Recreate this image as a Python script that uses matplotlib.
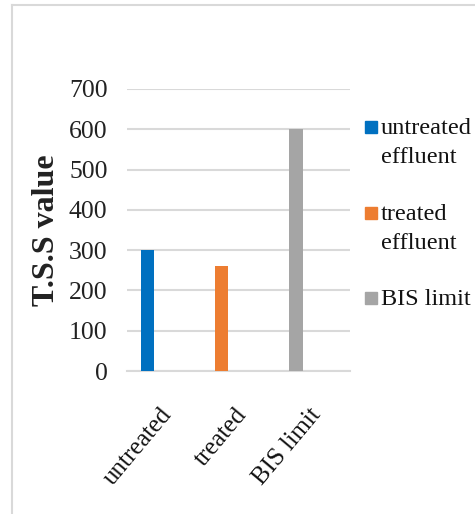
import matplotlib
matplotlib.use("Agg")
import matplotlib.pyplot as plt
from matplotlib.lines import Line2D
from matplotlib.patches import Rectangle
from matplotlib.transforms import ScaledTranslation

categories = ["untreated", "treated", "BIS limit"]
values = [300, 260, 600]
series_names = ["untreated\neffluent", "treated\neffluent", "BIS limit"]
colors = ["#0070C0", "#ED7D31", "#A5A5A5"]
yticks = [0, 100, 200, 300, 400, 500, 600, 700]

plt.rcParams['font.family'] = ['Liberation Serif', 'DejaVu Serif']

W, H = 475, 514
fig = plt.figure(figsize=(W / 100, H / 100), dpi=100)

ax = fig.add_axes([127 / W, 1 - 371 / H, (350 - 127) / W, (371 - 89) / H])

x = list(range(len(categories)))
offset = -0.227
width = 0.18
for i, (v, c) in enumerate(zip(values, colors)):
    ax.bar(x[i] + offset, v, width=width, color=c, zorder=3)

ax.set_xlim(-0.5, len(categories) - 0.5)
ax.set_ylim(0, 700)
ax.set_yticks(yticks)
ax.set_yticklabels([str(t) for t in yticks], fontsize=18.5, color="#222222")
ax.yaxis.grid(True, color="#d9d9d9", linewidth=1.5, zorder=0)
ax.tick_params(axis="y", length=0, pad=14)
for s in ["left", "right", "top"]:
    ax.spines[s].set_visible(False)
ax.spines["bottom"].set_color("#d9d9d9")
ax.spines["bottom"].set_linewidth(1.5)

ax.set_xticks(x)
ax.set_xticklabels(categories, fontsize=18, rotation=50, ha="right",
                   va="center", rotation_mode="anchor", color="#111111")
ax.tick_params(axis="x", length=0, pad=29)
shift = ScaledTranslation(4 / 100, 0, fig.dpi_scale_trans)
for lab in ax.get_xticklabels():
    lab.set_transform(lab.get_transform() + shift)

ax.set_ylabel("T.S.S value", fontsize=23, fontweight="bold", color="#222222",
              labelpad=6)

# legend drawn manually (Excel style: square aligned with first line)
leg_y = [127, 213, 298]
for name, c, yc in zip(series_names, colors, leg_y):
    fig.patches.append(Rectangle((365 / W, 1 - (yc + 6) / H), 12 / W, 12 / H,
                                 transform=fig.transFigure, color=c))
    fig.text(381 / W, 1 - (yc - 9) / H, name, fontsize=17.5, va="top",
             ha="left", linespacing=1.5, color="#111111")

# outer chart border (top and left visible)
fig.add_artist(Line2D([11.5 / W, 1], [1 - 4.5 / H, 1 - 4.5 / H],
                      transform=fig.transFigure, color="#d9d9d9", lw=1.5))
fig.add_artist(Line2D([11.5 / W, 11.5 / W], [0, 1 - 4.5 / H],
                      transform=fig.transFigure, color="#d9d9d9", lw=1.5))

fig.savefig("out.png", dpi=100, facecolor="white")
